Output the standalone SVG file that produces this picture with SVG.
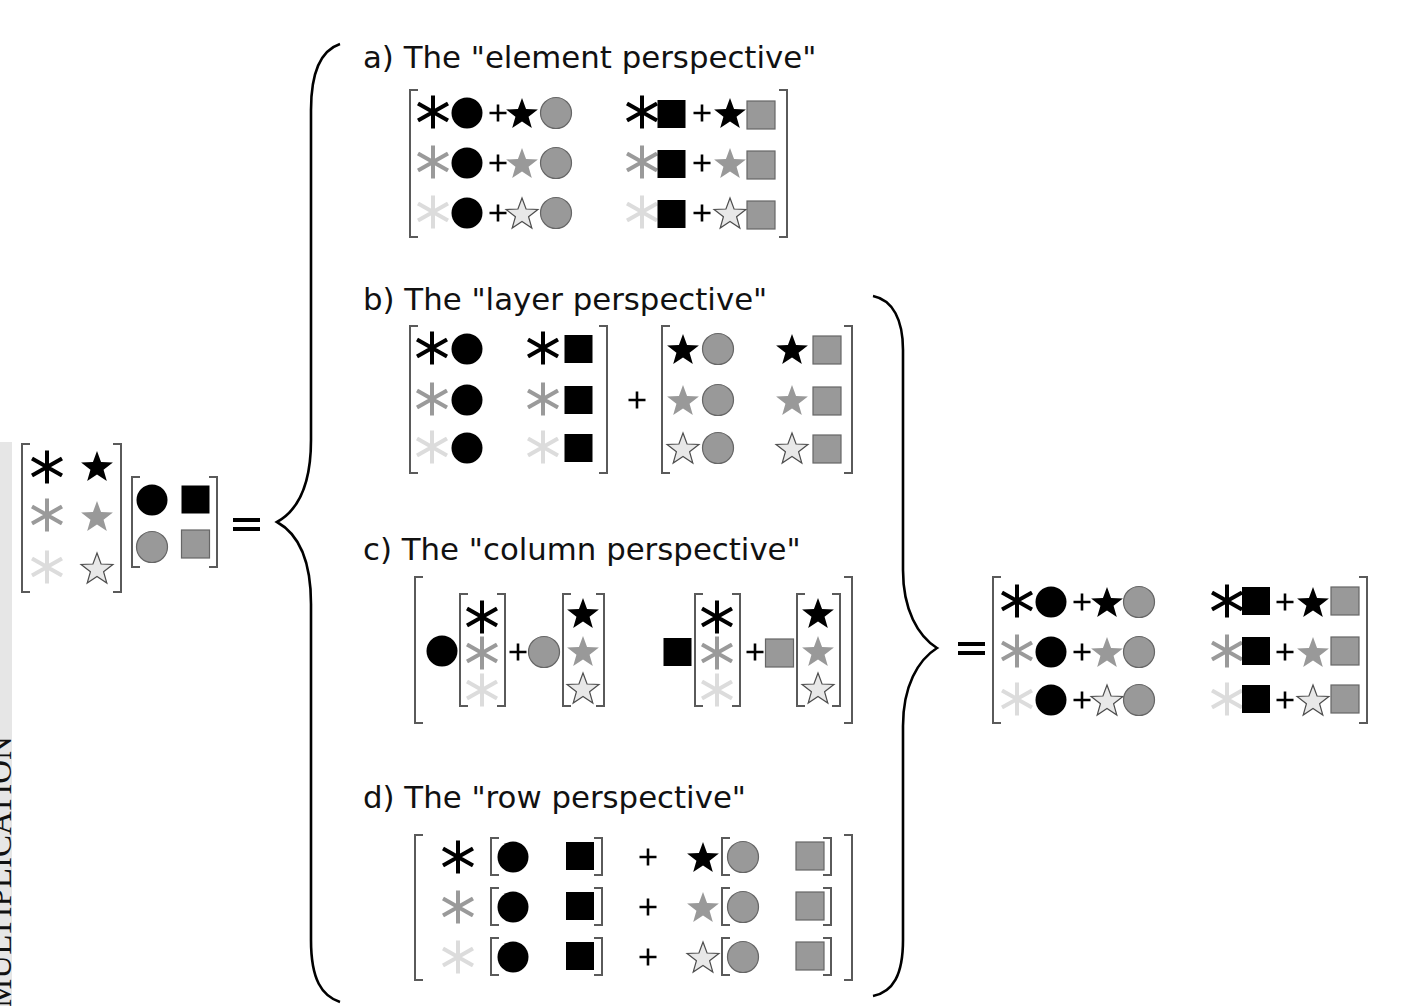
<svg xmlns="http://www.w3.org/2000/svg" xmlns:xlink="http://www.w3.org/1999/xlink" width="1406" height="1006" viewBox="0 0 1406 1006">
  <style>
    .title{font-family:"DejaVu Sans","Verdana",sans-serif;font-size:30.8px;fill:#111}
    .side{font-family:"Liberation Serif","Times New Roman",serif;font-size:33px;fill:#111}
    .br{fill:none;stroke:#5a5a5a;stroke-width:2}
    .brace{fill:none;stroke:#000;stroke-width:2.6}
    .k{color:#000}
    .g{color:#9a9a9a}
    .l{color:#dcdcdc}
    .sk{fill:#000}
    .sg{fill:#999}
    .sl{fill:#e8e8e8;stroke:#4d4d4d;stroke-width:1.2}
    .fk{fill:#000}
    .fg{fill:#999;stroke:#666;stroke-width:1.2}
    .eq{fill:#000}
  </style>
  <defs>
    <!-- six-armed asterisk, colour from currentColor -->
    <path id="ast" d="M0 -16.5V16.5M-15 -8.5L15 8.5M-15 8.5L15 -8.5" fill="none" stroke="currentColor" stroke-width="4"/>
    <!-- five-pointed star -->
    <polygon id="star" points="0,-15 4.05,-3.97 15.9,-3.55 6.56,3.7 9.82,15 0,8.4 -9.82,15 -6.56,3.7 -15.9,-3.55 -4.05,-3.97"/>
    <circle id="cir" r="15.5"/>
    <rect id="sq" x="-14" y="-14" width="28" height="28"/>
    <path id="plus" d="M-8.5 0H8.5M0 -8.5V8.5" stroke="#000" stroke-width="2.6"/>
  </defs>

  <!-- margin strip with rotated heading -->
  <g id="margin">
    <rect x="0" y="442" width="12" height="564" fill="#e6e6e6"/>
    <text class="side" transform="translate(11,1008) rotate(-90)">MULTIPLICATION</text>
  </g>

  <!-- left-hand product: A B = -->
  <g id="lhs">
    <path class="br" d="M30 444H22V592H30"/>
    <path class="br" d="M113 444H121V592H113"/>
    <use href="#ast" class="k" x="47" y="467"/>
    <use href="#ast" class="g" x="47" y="515"/>
    <use href="#ast" class="l" x="47" y="567"/>
    <use href="#star" class="sk" x="97" y="466"/>
    <use href="#star" class="sg" x="97" y="516"/>
    <use href="#star" class="sl" x="97" y="568"/>
    <path class="br" d="M140 477H132V567H140"/>
    <path class="br" d="M209 477H217V567H209"/>
    <use href="#cir" class="fk" x="152" y="500"/>
    <use href="#sq" class="fk" x="195.5" y="499.5"/>
    <use href="#cir" class="fg" x="152" y="547"/>
    <use href="#sq" class="fg" x="195.5" y="544"/>
    <rect class="eq" x="233" y="518" width="27" height="4"/>
    <rect class="eq" x="233" y="527" width="27" height="4"/>
  </g>

  <!-- braces -->
  <g id="braces">
    <path class="brace" d="M340 44C322 50 311 70 311 110L311 440C311 490 295 512 277 522C295 532 311 554 311 604L311 940C311 980 322 996 340 1002"/>
    <path class="brace" d="M873 296C893 300 903 320 903 350L903 570C903 610 918 636 937 648C918 660 903 686 903 726L903 940C903 975 893 992 873 996"/>
  </g>

  <!-- a) element perspective -->
  <g id="element">
    <text class="title" x="363" y="68">a) The "element perspective"</text>
    <path class="br" d="M418 90H410V237H418"/>
    <path class="br" d="M779 90H787V237H779"/>
    <g id="element-r1">
      <use href="#ast" class="k" x="433" y="112"/><use href="#cir" class="fk" x="467" y="113"/>
      <use href="#plus" x="498" y="113"/><use href="#star" class="sk" x="522" y="113"/>
      <use href="#cir" class="fg" x="556" y="113"/>
      <use href="#ast" class="k" x="642" y="112"/><use href="#sq" class="fk" x="671.5" y="114"/>
      <use href="#plus" x="702" y="113"/><use href="#star" class="sk" x="730" y="113"/>
      <use href="#sq" class="fg" x="761" y="115"/>
    </g>
    <g id="element-r2">
      <use href="#ast" class="g" x="433" y="162"/><use href="#cir" class="fk" x="467" y="163"/>
      <use href="#plus" x="498" y="163"/><use href="#star" class="sg" x="522" y="163"/>
      <use href="#cir" class="fg" x="556" y="163"/>
      <use href="#ast" class="g" x="642" y="162"/><use href="#sq" class="fk" x="671.5" y="164"/>
      <use href="#plus" x="702" y="163"/><use href="#star" class="sg" x="730" y="163"/>
      <use href="#sq" class="fg" x="761" y="165"/>
    </g>
    <g id="element-r3">
      <use href="#ast" class="l" x="433" y="212"/><use href="#cir" class="fk" x="467" y="213"/>
      <use href="#plus" x="498" y="213"/><use href="#star" class="sl" x="522" y="213"/>
      <use href="#cir" class="fg" x="556" y="213"/>
      <use href="#ast" class="l" x="642" y="212"/><use href="#sq" class="fk" x="671.5" y="214"/>
      <use href="#plus" x="702" y="213"/><use href="#star" class="sl" x="730" y="213"/>
      <use href="#sq" class="fg" x="761" y="215"/>
    </g>
  </g>

  <!-- b) layer perspective -->
  <g id="layer">
    <text class="title" x="363" y="310">b) The "layer perspective"</text>
    <path class="br" d="M418 326H410V473H418"/>
    <path class="br" d="M599 326H607V473H599"/>
    <use href="#ast" class="k" x="432" y="348"/><use href="#cir" class="fk" x="467" y="349"/>
    <use href="#ast" class="k" x="543" y="348"/><use href="#sq" class="fk" x="578.5" y="349"/>
    <use href="#ast" class="g" x="432" y="399"/><use href="#cir" class="fk" x="467" y="400"/>
    <use href="#ast" class="g" x="543" y="399"/><use href="#sq" class="fk" x="578.5" y="400"/>
    <use href="#ast" class="l" x="432" y="447"/><use href="#cir" class="fk" x="467" y="448"/>
    <use href="#ast" class="l" x="543" y="447"/><use href="#sq" class="fk" x="578.5" y="448"/>
    <use href="#plus" x="637" y="400"/>
    <path class="br" d="M670 326H662V473H670"/>
    <path class="br" d="M844 326H852V473H844"/>
    <use href="#star" class="sk" x="683" y="349"/><use href="#cir" class="fg" x="718" y="349"/>
    <use href="#star" class="sk" x="792" y="349"/><use href="#sq" class="fg" x="827" y="350"/>
    <use href="#star" class="sg" x="683" y="400"/><use href="#cir" class="fg" x="718" y="400"/>
    <use href="#star" class="sg" x="792" y="400"/><use href="#sq" class="fg" x="827" y="401"/>
    <use href="#star" class="sl" x="683" y="448"/><use href="#cir" class="fg" x="718" y="448"/>
    <use href="#star" class="sl" x="792" y="448"/><use href="#sq" class="fg" x="827" y="449"/>
  </g>

  <!-- c) column perspective -->
  <g id="column">
    <text class="title" x="363" y="560">c) The "column perspective"</text>
    <path class="br" d="M423 577H415V723H423"/>
    <path class="br" d="M844 577H852V723H844"/>
    <use href="#cir" class="fk" x="442" y="651"/>
    <path class="br" d="M468 594H460V706H468"/>
    <path class="br" d="M497 594H505V706H497"/>
    <use href="#ast" class="k" x="482" y="617"/>
    <use href="#ast" class="g" x="482" y="653"/>
    <use href="#ast" class="l" x="482" y="690"/>
    <use href="#plus" x="518" y="652"/>
    <use href="#cir" class="fg" x="544" y="652"/>
    <path class="br" d="M571 594H563V706H571"/>
    <path class="br" d="M596 594H604V706H596"/>
    <use href="#star" class="sk" x="583" y="613"/>
    <use href="#star" class="sg" x="583" y="651"/>
    <use href="#star" class="sl" x="583" y="688"/>
    <use href="#sq" class="fk" x="677.5" y="652"/>
    <path class="br" d="M703 594H695V706H703"/>
    <path class="br" d="M732 594H740V706H732"/>
    <use href="#ast" class="k" x="717" y="617"/>
    <use href="#ast" class="g" x="717" y="653"/>
    <use href="#ast" class="l" x="717" y="690"/>
    <use href="#plus" x="755" y="652"/>
    <use href="#sq" class="fg" x="779.5" y="653"/>
    <path class="br" d="M805 594H797V706H805"/>
    <path class="br" d="M832 594H840V706H832"/>
    <use href="#star" class="sk" x="818" y="613"/>
    <use href="#star" class="sg" x="818" y="651"/>
    <use href="#star" class="sl" x="818" y="688"/>
  </g>

  <!-- d) row perspective -->
  <g id="row">
    <text class="title" x="363" y="808">d) The "row perspective"</text>
    <path class="br" d="M423 835H415V980H423"/>
    <path class="br" d="M844 835H852V980H844"/>
    <g id="row-1">
      <use href="#ast" class="k" x="458" y="857"/>
      <path class="br" d="M499 838H491V875H499"/><path class="br" d="M594 838H602V875H594"/>
      <use href="#cir" class="fk" x="513" y="857"/><use href="#sq" class="fk" x="580" y="856"/>
      <use href="#plus" x="648" y="857"/>
      <use href="#star" class="sk" x="703" y="857"/>
      <path class="br" d="M730 838H722V875H730"/><path class="br" d="M823 838H831V875H823"/>
      <use href="#cir" class="fg" x="743" y="857"/><use href="#sq" class="fg" x="810" y="856"/>
    </g>
    <g id="row-2">
      <use href="#ast" class="g" x="458" y="907"/>
      <path class="br" d="M499 888H491V925H499"/><path class="br" d="M594 888H602V925H594"/>
      <use href="#cir" class="fk" x="513" y="907"/><use href="#sq" class="fk" x="580" y="906"/>
      <use href="#plus" x="648" y="907"/>
      <use href="#star" class="sg" x="703" y="907"/>
      <path class="br" d="M730 888H722V925H730"/><path class="br" d="M823 888H831V925H823"/>
      <use href="#cir" class="fg" x="743" y="907"/><use href="#sq" class="fg" x="810" y="906"/>
    </g>
    <g id="row-3">
      <use href="#ast" class="l" x="458" y="957"/>
      <path class="br" d="M499 938H491V975H499"/><path class="br" d="M594 938H602V975H594"/>
      <use href="#cir" class="fk" x="513" y="957"/><use href="#sq" class="fk" x="580" y="956"/>
      <use href="#plus" x="648" y="957"/>
      <use href="#star" class="sl" x="703" y="957"/>
      <path class="br" d="M730 938H722V975H730"/><path class="br" d="M823 938H831V975H823"/>
      <use href="#cir" class="fg" x="743" y="957"/><use href="#sq" class="fg" x="810" y="956"/>
    </g>
  </g>

  <!-- result matrix -->
  <g id="result">
    <rect class="eq" x="958" y="642" width="27" height="4"/>
    <rect class="eq" x="958" y="651" width="27" height="4"/>
    <path class="br" d="M1001 577H993V723H1001"/>
    <path class="br" d="M1359 577H1367V723H1359"/>
    <use href="#ast" class="k" x="1017" y="601"/><use href="#cir" class="fk" x="1051" y="602"/>
    <use href="#plus" x="1082" y="602"/><use href="#star" class="sk" x="1107" y="602"/>
    <use href="#cir" class="fg" x="1139" y="602"/>
    <use href="#ast" class="k" x="1227" y="601"/><use href="#sq" class="fk" x="1256" y="601"/>
    <use href="#plus" x="1285" y="602"/><use href="#star" class="sk" x="1313" y="602"/>
    <use href="#sq" class="fg" x="1345" y="601"/>
    <use href="#ast" class="g" x="1017" y="651"/><use href="#cir" class="fk" x="1051" y="652"/>
    <use href="#plus" x="1082" y="652"/><use href="#star" class="sg" x="1107" y="652"/>
    <use href="#cir" class="fg" x="1139" y="652"/>
    <use href="#ast" class="g" x="1227" y="651"/><use href="#sq" class="fk" x="1256" y="651"/>
    <use href="#plus" x="1285" y="652"/><use href="#star" class="sg" x="1313" y="652"/>
    <use href="#sq" class="fg" x="1345" y="651"/>
    <use href="#ast" class="l" x="1017" y="699"/><use href="#cir" class="fk" x="1051" y="700"/>
    <use href="#plus" x="1082" y="700"/><use href="#star" class="sl" x="1107" y="700"/>
    <use href="#cir" class="fg" x="1139" y="700"/>
    <use href="#ast" class="l" x="1227" y="699"/><use href="#sq" class="fk" x="1256" y="699"/>
    <use href="#plus" x="1285" y="700"/><use href="#star" class="sl" x="1313" y="700"/>
    <use href="#sq" class="fg" x="1345" y="699"/>
  </g>
</svg>
